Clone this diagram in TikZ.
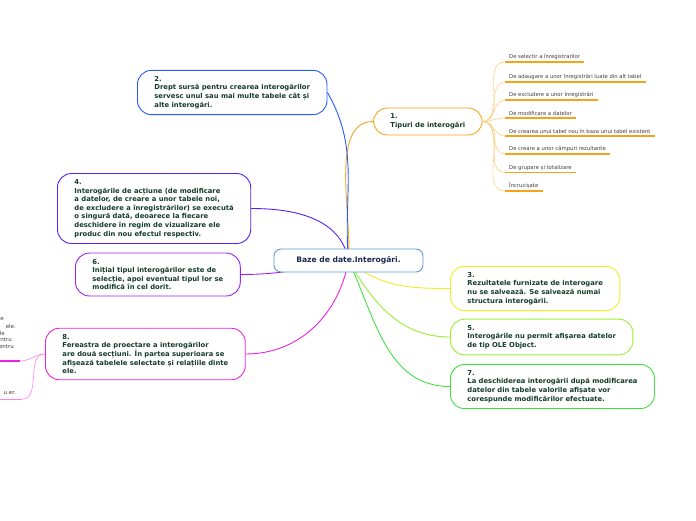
\documentclass[tikz,border=0pt]{standalone}
\usepackage{fontspec}
\setmainfont{DejaVu Sans}
\usetikzlibrary{positioning}
\definecolor{rootblue}{RGB}{91,155,213}
\definecolor{rootink}{RGB}{25,40,80}
\definecolor{nodeink}{RGB}{20,60,40}
\definecolor{leafink}{RGB}{60,60,60}
\definecolor{mmorange}{RGB}{247,162,27}
\definecolor{mmlightorange}{RGB}{251,208,130}
\definecolor{mmblue}{RGB}{40,90,255}
\definecolor{mmviolet}{RGB}{85,34,255}
\definecolor{mmpurple}{RGB}{153,34,238}
\definecolor{mmmagenta}{RGB}{238,34,221}
\definecolor{mmpink}{RGB}{255,130,235}
\definecolor{mmyellow}{RGB}{238,238,34}
\definecolor{mmlime}{RGB}{153,238,51}
\definecolor{mmgreen}{RGB}{68,221,68}

\begin{document}
\begin{tikzpicture}[x=1pt,y=-1pt,
  every node/.style={font=\fontsize{6.8}{8.6}\selectfont\bfseries, text=nodeink},
  topic/.style={draw,line width=0.9pt,rounded corners=14pt,fill=white,align=left,anchor=west,inner xsep=17pt,inner ysep=6pt},
  leaf/.style={font=\fontsize{5.3}{6}\selectfont, text=leafink, anchor=south west, inner xsep=4pt, inner ysep=2pt},
  frag/.style={font=\fontsize{5.5}{6}\selectfont, text=leafink, anchor=east, inner sep=0pt},
  link/.style={line width=0.9pt}]
  \useasboundingbox (0,0) rectangle (696,520);

  % topics round the centre
  \node[topic,draw=mmorange] (n1) at (373,121.5) {1.\\Tipuri de interogări};
  \node[topic,draw=mmblue] (n2) at (137,92.5) {2.\\Drept sursă pentru crearea interogărilor\\servesc unul sau mai multe tabele cât și\\alte interogări.};
  \node[topic,draw=mmviolet] (n4) at (57,208.5) {4.\\Interogările de acțiune (de modificare\\a datelor, de creare a unor tabele noi,\\de excludere a înregistrărilor) se execută\\o singură dată, deoarece la fiecare\\deschidere în regim de vizualizare ele\\produc din nou efectul respectiv.};
  \node[topic,draw=mmpurple] (n6) at (75,274.5) {6.\\Inițial tipul interogărilor este de\\selecție, apoi eventual tipul lor se\\modifică în cel dorit.};
  \node[topic,draw=mmmagenta] (n8) at (45,354) {8.\\Fereastra de proectare a interogărilor\\are două secțiuni. În partea superioara se\\afișează tabelele selectate și relațiile dinte\\ele.};
  \node[topic,draw=mmyellow] (n3) at (450,288.5) {3.\\Rezultatele furnizate de interogare\\nu se salvează. Se salvează numai\\structura interogării.};
  \node[topic,draw=mmlime] (n5) at (450,337) {5.\\Interogările nu permit afișarea datelor\\de tip OLE Object.};
  \node[topic,draw=mmgreen] (n7) at (450,386.5) {7.\\La deschiderea interogării după modificarea\\datelor din tabele valorile afișate vor\\corespunde modificărilor efectuate.};

  % tipuri de interogari
  \foreach \t/\yy [count=\i] in {De selectir a înregistrarilor/62,
      De adaugare a unor înregistrări luate din alt tabel/82,
      De excludere a unor înregistrări/100,
      De modificare a datelor/118,
      De crearea unui tabel nou în baza unui tabel existent/136,
      De creare a unor câmpuri rezultante/154,
      De grupare și totalizare/172.5,
      Încrucișate/191}{
    \node[leaf] (s\i) at (505,\yy) {\t};
    \draw[mmorange,line width=1.2pt] (s\i.south west) -- (s\i.south east);
    \draw[mmlightorange,line width=0.6pt] (n1.east) to[out=0,in=180] (s\i.south west);
  }

  % cut off children of 8
  \foreach \t/\xx/\yy [count=\i] in {e/4/319,ele./16/326,le/5/333,ntru/12/340,entru/14/347,u er./16/393}
    \node[frag] (f\i) at (\xx,\yy) {\t};
  \coordinate (u1) at (20,361);
  \coordinate (u1e) at (-2,361);
  \coordinate (u2) at (22,399);
  \coordinate (u2e) at (-2,399);
  \draw[mmmagenta,line width=1.6pt] (u1) -- (u1e);
  \draw[mmpink,line width=0.8pt] (u2) -- (u2e);
  \draw[mmpink,line width=0.6pt] (n8.west) to[out=180,in=0] (u1);
  \draw[mmpink,line width=0.6pt] (n8.west) to[out=180,in=0] (u2);

  % connectors from the centre
  \coordinate (hub) at (348.5,260.5);
  \draw[link,mmorange] (hub) to[out=85,in=180,looseness=0.8] (n1.west);
  \draw[link,mmblue] (n2.east) to[out=-60,in=95] (hub);
  \draw[link,mmviolet] (n4.east) to[out=0,in=100] (hub);
  \draw[link,mmpurple] (n6.east) to[out=0,in=190] (hub);
  \draw[link,mmmagenta] (n8.east) to[out=0,in=-100] (hub);
  \draw[link,mmyellow] (hub) to[out=-40,in=180] (n3.west);
  \draw[link,mmlime] (hub) to[out=-60,in=180] (n5.west);
  \draw[link,mmgreen] (hub) to[out=-65,in=180] (n7.west);

  \node[draw=rootblue,line width=0.9pt,rounded corners=7pt,fill=white,text=rootink,font=\fontsize{7.6}{9}\selectfont\bfseries,minimum width=149pt,minimum height=23pt] (root) at (hub) {Baze de date.Interogări.};
\end{tikzpicture}
\end{document}
